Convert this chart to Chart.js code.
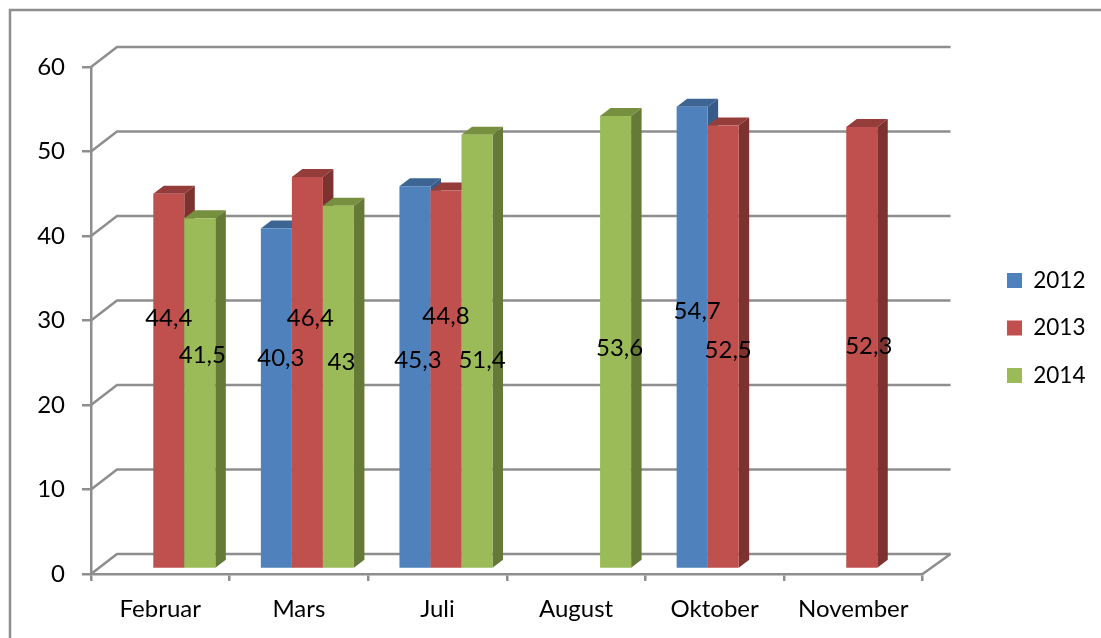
<!DOCTYPE html>
<html>
<head>
<meta charset="utf-8">
<style>
  html, body { margin: 0; padding: 0; background: #fff; }
  #wrap { position: relative; width: 1101px; height: 638px; }
</style>
<script src="https://cdn.jsdelivr.net/npm/chart.js@4"></script>
</head>
<body>
<div id="wrap"><canvas id="chart" width="1101" height="638"></canvas></div>
<script>
const months = ['Februar', 'Mars', 'Juli', 'August', 'Oktober', 'November'];
const years = ['2012', '2013', '2014'];
const values2012 = [null, 40.3, 45.3, null, 54.7, null];
const values2013 = [44.4, 46.4, 44.8, null, 52.5, 52.3];
const values2014 = [41.5, 43, 51.4, 53.6, null, null];
const valueTicks = [0, 10, 20, 30, 40, 50, 60];

// colours: front, top, side
const palette = [
    ['#4f81bd', '#3d6594', '#375c8a'],
    ['#c0504d', '#943d3b', '#7d3230'],
    ['#9bbb59', '#77903f', '#667a38']
];
const lineGrey = '#8e8e8e';
const font = 'Lato, Carlito, sans-serif';

// the bars stand a little in front of the axis plane
const barShift = { x: 8.5, y: -5 };
const barDepth = { x: 10.5, y: -8 };
const wallDepth = { x: 26, y: -20 };

// hand placed data labels, pixel nudge from the centre of each bar
const labelNudge = [
    [null, [4.5, -40], [3, -17], null, [5, -26], null],
    [[0, -63], [3, -54], [0, -63], null, [5, 4], [7, -1]],
    [[2.5, -38], [3, -24], [5, 9], [4, 6], null, null]
];

const threeDee = {
    id: 'threeDee',
    beforeDatasetsDraw(chart) {
        const { ctx, scales: { x, y } } = chart;
        ctx.save();
        ctx.strokeStyle = lineGrey;
        ctx.lineWidth = 2.5;

        // outer frame, only top and left show
        ctx.beginPath();
        ctx.moveTo(1101, 10);
        ctx.lineTo(10, 10);
        ctx.lineTo(10, 638);
        ctx.stroke();

        // walls
        valueTicks.forEach(v => {
            const py = y.getPixelForValue(v);
            ctx.beginPath();
            ctx.moveTo(x.left, py);
            ctx.lineTo(x.left + wallDepth.x, py + wallDepth.y);
            ctx.lineTo(x.right + wallDepth.x + 2, py + wallDepth.y);
            ctx.stroke();
        });
        const py0 = y.getPixelForValue(0);
        ctx.beginPath();
        ctx.moveTo(x.right, py0);
        ctx.lineTo(x.right + wallDepth.x + 2, py0 + wallDepth.y);
        ctx.stroke();

        // bars, in series order so later ones cover the side of earlier ones
        ctx.translate(barShift.x, barShift.y);
        chart.getSortedVisibleDatasetMetas().slice().sort((a, b) => a.index - b.index).forEach(meta => {
            const cols = palette[meta.index];
            meta.data.forEach((bar, i) => {
                if (chart.data.datasets[meta.index].data[i] == null) return;
                const p = bar.getProps(['x', 'y', 'base', 'width']);
                const x1 = p.x + p.width / 2;
                const x0 = p.x - p.width / 2;
                ctx.fillStyle = cols[1];
                ctx.beginPath();
                ctx.moveTo(x0, p.y);
                ctx.lineTo(x0 + barDepth.x, p.y + barDepth.y);
                ctx.lineTo(x1 + barDepth.x, p.y + barDepth.y);
                ctx.lineTo(x1, p.y);
                ctx.closePath();
                ctx.fill();
                ctx.fillStyle = cols[2];
                ctx.beginPath();
                ctx.moveTo(x1, p.y);
                ctx.lineTo(x1 + barDepth.x, p.y + barDepth.y);
                ctx.lineTo(x1 + barDepth.x, p.base + barDepth.y);
                ctx.lineTo(x1, p.base);
                ctx.closePath();
                ctx.fill();
                bar.draw(ctx);
            });
        });
        ctx.restore();
    },
    beforeDatasetDraw() {
        return false;
    },
    afterDatasetsDraw(chart) {
        const { ctx } = chart;
        ctx.save();
        ctx.fillStyle = '#000';
        ctx.font = '24px ' + font;
        ctx.textAlign = 'center';
        ctx.textBaseline = 'middle';
        chart.data.datasets.forEach((ds, di) => {
            const meta = chart.getDatasetMeta(di);
            ds.data.forEach((v, i) => {
                if (v == null) return;
                const p = meta.data[i].getProps(['x', 'y', 'base']);
                const n = labelNudge[di][i];
                const text = String(v).replace('.', ',');
                ctx.fillText(text, p.x + barShift.x + n[0], (p.y + p.base) / 2 + barShift.y + n[1]);
            });
        });
        ctx.restore();
    },
    afterLayout(chart) {
        // legend is further right and a bit lower than the layout puts it
        const lg = chart.legend;
        const h = lg.bottom - lg.top;
        const w = lg.right - lg.left;
        lg.top = 328 - h / 2;
        lg.bottom = lg.top + h;
        lg.left = 982;
        lg.right = lg.left + w;
    }
};

new Chart(document.getElementById('chart'), {
    type: 'bar',
    data: {
        labels: months,
        datasets: [values2012, values2013, values2014].map((vals, i) => ({
            label: years[i],
            data: vals,
            backgroundColor: palette[i][0],
            borderWidth: 0,
            categoryPercentage: 93 / 138.5,
            barPercentage: 1
        }))
    },
    plugins: [threeDee],
    options: {
        responsive: false,
        animation: false,
        layout: { padding: { top: 67, left: 0, right: 65, bottom: 0 } },
        plugins: {
            tooltip: { enabled: false },
            title: { display: false },
            legend: {
                position: 'right',
                labels: {
                    boxWidth: 15,
                    boxHeight: 15,
                    padding: 25,
                    color: '#000',
                    font: { family: font, size: 22.5 }
                }
            }
        },
        scales: {
            x: {
                afterFit(s) { s.height = 64; },
                border: { color: lineGrey, width: 2.5 },
                grid: { drawOnChartArea: false, color: lineGrey, lineWidth: 2.5, tickLength: 7 },
                ticks: { color: '#000', padding: 14, font: { family: font, size: 24 }, maxRotation: 0 }
            },
            y: {
                min: 0,
                max: 60,
                afterFit(s) { s.width = 91; },
                afterBuildTicks(s) { s.ticks = valueTicks.map(v => ({ value: v })); },
                border: { color: lineGrey, width: 2.5 },
                grid: { drawOnChartArea: false, color: lineGrey, lineWidth: 2.5, tickLength: 9 },
                ticks: { color: '#000', padding: 17, font: { family: font, size: 24 } }
            }
        }
    }
});
</script>
</body>
</html>
